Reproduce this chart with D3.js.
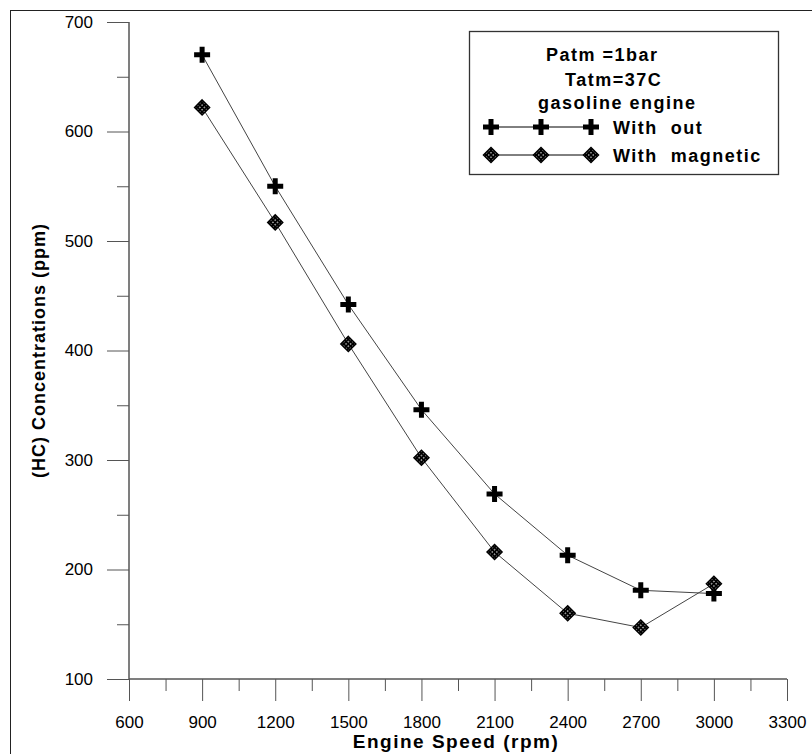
<!DOCTYPE html>
<html>
<head>
<meta charset="utf-8">
<title>HC Concentrations</title>
<script src="https://d3js.org/d3.v7.min.js"></script>
<style>
    body { margin:0; background:#fff; }
    text { font-family: "Liberation Sans", Arial, sans-serif; fill:#000; }
    .axis path, .axis line { stroke:#555; stroke-width:1px; }
    .curve { fill:none; stroke:#444; stroke-width:1px; }
    .lbl { font-weight:bold; }
</style>
</head>
<body>
<div id="chart"></div>
<script>

    var width = 812, height = 754;

    // engine speed (rpm)
    var speeds = [900, 1200, 1500, 1800, 2100, 2400, 2700, 3000];
    // HC concentrations (ppm)
    var withOut = [670, 550, 442, 346, 269, 213, 181, 178];
    var withMagnetic = [622, 517, 406, 302, 216, 160, 147, 187];

    var xMajor = [600, 900, 1200, 1500, 1800, 2100, 2400, 2700, 3000, 3300];
    var xMinor = [750, 1050, 1350, 1650, 1950, 2250, 2550, 2850, 3150];
    var yMajor = [100, 200, 300, 400, 500, 600, 700];
    var yMinor = [150, 250, 350, 450, 550, 650];

    var legendLines = ["Patm =1bar", "Tatm=37C", "gasoline engine"];
    var seriesNames = ["With  out", "With  magnetic"];

    var x = d3.scaleLinear().domain([600, 3300]).range([129, 787]);
    var y = d3.scaleLinear().domain([100, 700]).range([679, 22]);

    var svg = d3.select("#chart").append("svg")
        .attr("width", width).attr("height", height);

    // checker pattern for the diamond markers
    var defs = svg.append("defs");
    var pat = defs.append("pattern")
        .attr("id", "check")
        .attr("patternUnits", "userSpaceOnUse")
        .attr("width", 3.2).attr("height", 3.2)
        .attr("patternTransform", "rotate(45)");
    pat.append("rect").attr("width", 3.2).attr("height", 3.2).attr("fill", "#000");
    pat.append("rect").attr("x", 1).attr("y", 1).attr("width", 1.2).attr("height", 1.2).attr("fill", "#fff");

    // outer frame (top + left only visible)
    svg.append("line").attr("x1", 10).attr("x2", width).attr("y1", 10.5).attr("y2", 10.5)
        .attr("stroke", "#222");
    svg.append("line").attr("x1", 10.5).attr("x2", 10.5).attr("y1", 10).attr("y2", height)
        .attr("stroke", "#222");

    // x axis
    var gx = svg.append("g").attr("class", "axis").attr("transform", "translate(0," + y(100) + ")");
    gx.call(d3.axisBottom(x).tickValues(xMinor).tickSize(12).tickSizeOuter(0).tickFormat(""));
    gx.append("g").call(d3.axisBottom(x).tickValues(xMajor).tickSize(22).tickSizeOuter(0)
        .tickPadding(15).tickFormat(d3.format("d")));
    gx.selectAll(".domain").attr("d", "M" + x(600) + ",0H" + x(3300));

    // y axis
    var gy = svg.append("g").attr("class", "axis").attr("transform", "translate(" + x(600) + ",0)");
    gy.call(d3.axisLeft(y).tickValues(yMinor).tickSize(12).tickSizeOuter(0).tickFormat(""));
    gy.append("g").call(d3.axisLeft(y).tickValues(yMajor).tickSize(22).tickSizeOuter(0)
        .tickPadding(14).tickFormat(d3.format("d")));
    gy.selectAll(".domain").attr("d", "M0," + y(700) + "V" + y(100));
    svg.selectAll(".tick text").attr("fill", "#000")
        .style("font-size", "17px")
        .style("font-family", "'Liberation Sans', Arial, sans-serif");

    // axis titles
    svg.append("text").attr("class", "lbl")
        .attr("x", 456).attr("y", 748)
        .attr("text-anchor", "middle")
        .style("font-size", "19px").style("letter-spacing", "1.5px")
        .text("Engine Speed (rpm)");
    svg.append("text").attr("class", "lbl")
        .attr("transform", "translate(45," + ((y(100) + y(700)) / 2) + ") rotate(-90)")
        .attr("text-anchor", "middle")
        .style("font-size", "18px").style("letter-spacing", "1px")
        .text("(HC) Concentrations (ppm)");

    var plusPath = "M-2.5,-8H2.5V-2.5H8V2.5H2.5V8H-2.5V2.5H-8V-2.5H-2.5Z";
    var diamondPath = "M0,-7.5L7.5,0L0,7.5L-7.5,0Z";

    function drawSeries(vals, shape) {
        var pts = speeds.map(function(s, i) { return [x(s), y(vals[i])]; });
        svg.append("path").attr("class", "curve")
            .attr("d", d3.line()(pts));
        svg.append("g").selectAll("path").data(pts).enter().append("path")
            .attr("transform", function(d) { return "translate(" + d[0] + "," + d[1] + ")"; })
            .attr("d", shape)
            .attr("fill", shape == plusPath ? "#000" : "url(#check)")
            .attr("stroke", shape == plusPath ? "none" : "#000")
            .attr("stroke-width", 1.5);
    }
    drawSeries(withOut, plusPath);
    drawSeries(withMagnetic, diamondPath);

    // legend
    var lg = svg.append("g");
    lg.append("rect").attr("x", 469.5).attr("y", 31.5).attr("width", 309).attr("height", 143)
        .attr("fill", "#fff").attr("stroke", "#333").attr("stroke-width", 1.3);
    var lx = [546, 565, 538], ly = [61, 86, 109];
    lg.selectAll("text.hd").data(legendLines).enter().append("text")
        .attr("class", "lbl hd")
        .attr("x", function(d, i) { return lx[i]; })
        .attr("y", function(d, i) { return ly[i]; })
        .style("font-size", "18px").style("letter-spacing", "1.5px")
        .text(function(d) { return d; });

    var rows = [127, 155], shapes = [plusPath, diamondPath], mx = [491, 541, 591];
    seriesNames.forEach(function(name, i) {
        lg.append("line").attr("x1", mx[0]).attr("x2", mx[2]).attr("y1", rows[i]).attr("y2", rows[i])
            .attr("stroke", "#000").attr("stroke-width", 1);
        mx.forEach(function(px) {
            lg.append("path").attr("transform", "translate(" + px + "," + rows[i] + ")")
                .attr("d", shapes[i])
                .attr("fill", i == 0 ? "#000" : "url(#check)")
                .attr("stroke", i == 0 ? "none" : "#000").attr("stroke-width", 1.5);
        });
        lg.append("text").attr("class", "lbl")
            .attr("x", 613).attr("y", rows[i] + 7)
            .style("font-size", "18px").style("letter-spacing", "1.5px")
            .style("white-space", "pre")
            .text(name);
    });

</script>
</body>
</html>
